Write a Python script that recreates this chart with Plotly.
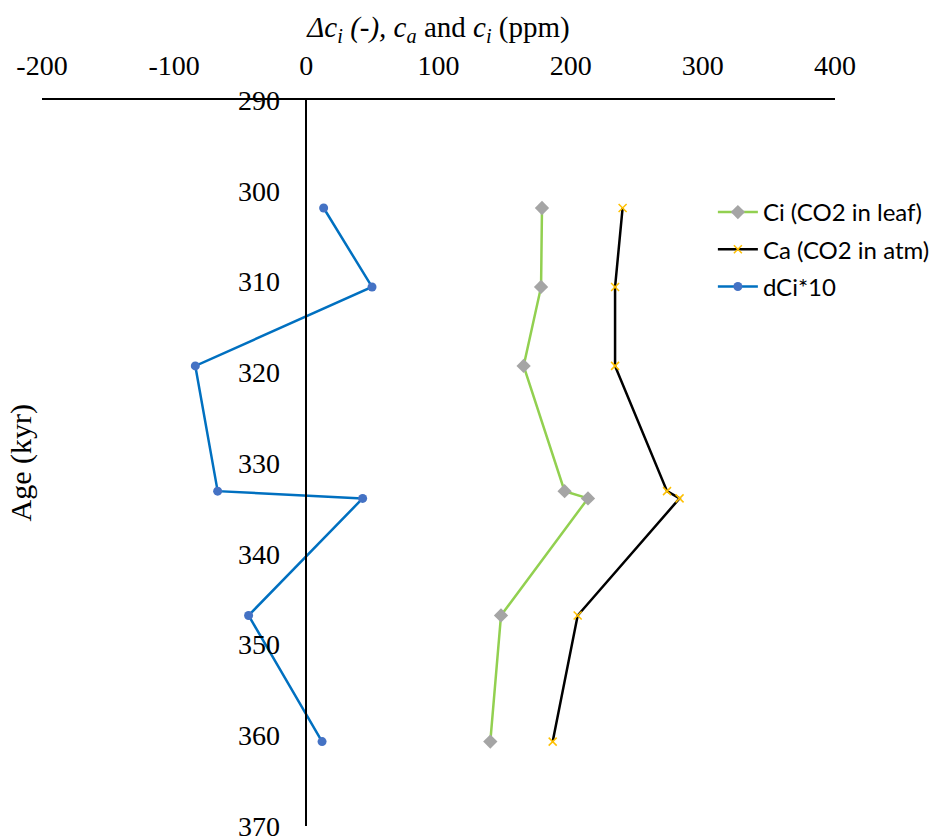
import plotly.graph_objects as go

# Sample ages (kyr)
age = [301.9, 310.6, 319.3, 333.1, 333.9, 346.8, 360.7]

# Series values
ci = [178.3, 177.6, 164.4, 195.4, 213.1, 147.3, 139.2]       # CO2 in leaf (ppm)
ca = [239.3, 233.6, 233.6, 272.9, 282.4, 205.3, 186.4]       # CO2 in atmosphere (ppm)
dci10 = [13.1, 49.7, -84.0, -67.1, 42.6, -43.7, 11.9]        # delta Ci x 10

x_ticks = [-200, -100, 0, 100, 200, 300, 400]
x_ticktext = ["-200", "-100", "0", "100", "200", "300", "400"]
y_ticks = [290, 300, 310, 320, 330, 340, 350, 360, 370]

serif = "Liberation Serif, Times New Roman, serif"

fig = go.Figure()
fig.add_trace(go.Scatter(
    x=ci, y=age, mode="lines+markers", name="Ci (CO2 in leaf)", legendgroup="a",
    line=dict(color="#92D050", width=2.5),
    marker=dict(symbol="diamond", size=11, color="#A5A5A5"),
))
fig.add_trace(go.Scatter(
    x=ca, y=age, mode="lines+markers", name="Ca (CO2 in atm)", legendgroup="b",
    line=dict(color="#000000", width=2.5),
    marker=dict(symbol="x-thin", size=8, color="#FFC000",
                line=dict(color="#FFC000", width=1.5)),
))
fig.add_trace(go.Scatter(
    x=dci10, y=age, mode="lines+markers", name="dCi*10", legendgroup="c",
    line=dict(color="#0070C0", width=2.5),
    marker=dict(symbol="circle", size=9, color="#4472C4"),
))

fig.update_layout(
    width=944, height=838,
    margin=dict(l=42, r=109, t=100, b=12, autoexpand=False),
    paper_bgcolor="white", plot_bgcolor="white",
    showlegend=True,
    legend=dict(
        x=0.846, y=0.876, xanchor="left", yanchor="top",
        font=dict(family="Lato, Noto Sans, sans-serif", size=24, color="#000"),
        bgcolor="rgba(0,0,0,0)", traceorder="grouped", tracegroupgap=3,
        itemwidth=40,
    ),
    xaxis=dict(
        range=[-200, 400], side="top", tickvals=x_ticks, ticktext=x_ticktext,
        showgrid=False, zeroline=False, showline=True, automargin=False,
        linecolor="#000", linewidth=1.5, ticks="",
        tickfont=dict(family=serif, size=28, color="#000"),
        ticklabelstandoff=12,
        title=dict(
            text="<i>Δc<sub>i</sub> (-), c<sub>a</sub></i> and <i>c<sub>i</sub></i> (ppm)",
            font=dict(family=serif, size=29, color="#000"), standoff=4,
        ),
    ),
    yaxis=dict(
        range=[370, 290], tickvals=y_ticks,
        anchor="free", position=1 / 3, side="left",
        showgrid=False, zeroline=False, showline=True, automargin=False,
        linecolor="#000", linewidth=1.5, ticks="",
        tickfont=dict(family=serif, size=28, color="#000"),
        ticklabelstandoff=20, ticklabeloverflow="allow",
    ),
    annotations=[dict(
        text="Age (kyr)", xref="paper", yref="paper",
        x=-0.026, y=0.5, xanchor="center", yanchor="middle",
        textangle=-90, showarrow=False,
        font=dict(family=serif, size=30, color="#000"),
    )],
)

fig.write_html("out.html")
